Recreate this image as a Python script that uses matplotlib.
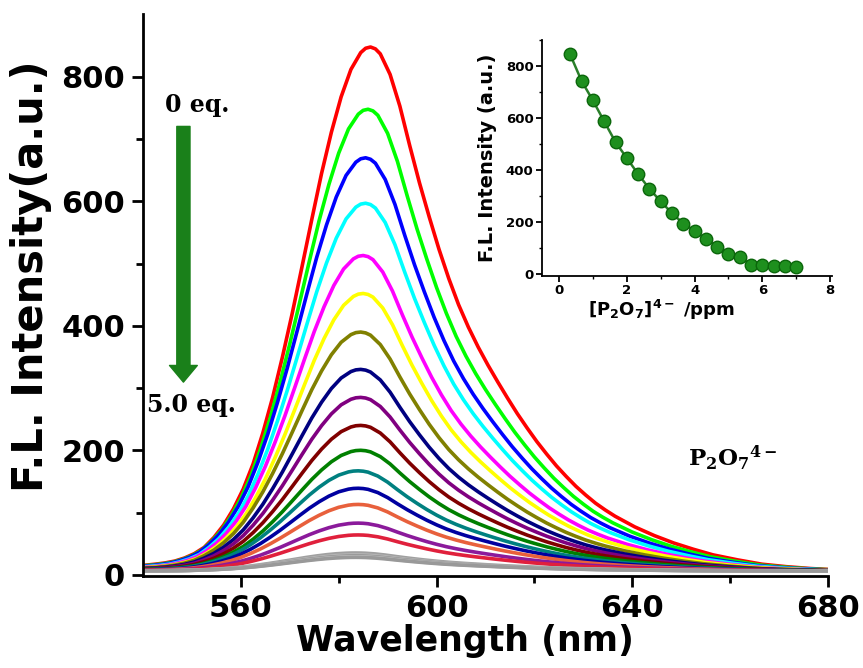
import numpy as np
import matplotlib
matplotlib.use("Agg")
import matplotlib.pyplot as plt
from matplotlib.ticker import MultipleLocator

plt.rcParams['font.family'] = ['DejaVu Sans']
plt.rcParams['font.weight'] = 'bold'
plt.rcParams['mathtext.default'] = 'regular'

# ---- data: shape of the 0 eq. (red) spectrum ----
# wavelength offset from the peak (nm) and intensity of the red curve
profile_offset = [-46.5, -44, -42, -40, -38, -36, -34, -32, -30, -28, -26, -24, -22, -20,
                  -18, -16, -14, -12, -10, -8, -6, -4, -2, -1, 0, 1, 2, 4, 6, 8, 10, 12,
                  14, 16, 18, 20, 22, 24, 26, 28, 30, 32, 34, 36, 38, 40, 42, 44, 46, 48,
                  50, 54, 58, 62, 66, 70, 75, 80, 85, 90, 95, 100]
profile_red = [15, 17, 19, 22, 27, 34, 44, 60, 80, 106, 138, 178, 228, 285,
               350, 420, 495, 571, 645, 711, 768, 812, 839, 846, 848, 845, 837, 804, 753, 690, 630, 575,
               523, 476, 434, 398, 366, 337, 310, 284, 259, 236, 214, 194, 175, 158, 142, 128, 115, 104,
               94, 77, 63, 51, 41, 32, 24, 17, 13, 10, 8, 7]
baseline = 6

peak_intensity = [848, 748, 670, 597, 513, 452, 390, 330, 285, 240, 200, 167, 139,
                  113, 83, 64, 35, 32, 30, 29, 28]
peak_wavelength = [586.5, 586.0, 585.5, 585.5, 585.0, 585.0, 584.5, 584.5, 584.5, 584.5,
                   584.5, 584.0, 584.0, 584.0, 584.0, 584.0, 583.5, 583.5, 583.5, 583.5, 583.5]
colors = ['#FF0000', '#00FF00', '#0000FF', '#00FFFF', '#FF00FF', '#FFFF00', '#808000',
          '#000080', '#800080', '#800000', '#008000', '#008080', '#0000A0', '#E8603C',
          '#8B1A9B', '#E0203C', '#A0A0A0', '#B4B4B4', '#8C8C8C', '#C0C0C0', '#999999']

# inset data
conc_ppm = [0.33, 0.67, 1.0, 1.33, 1.67, 2.0, 2.33, 2.67, 3.0, 3.33, 3.67, 4.0, 4.33,
            4.67, 5.0, 5.33, 5.67, 6.0, 6.33, 6.67, 7.0]
inset_intensity = [845, 742, 668, 588, 507, 446, 385, 327, 279, 234, 193, 166, 134,
                   105, 77, 64, 35, 32, 30, 29, 28]

fig = plt.figure(figsize=(8.63, 6.68), dpi=100)
ax = fig.add_axes([0.1657, 0.1377, 0.7937, 0.8413])

off = np.array(profile_offset, dtype=float)
pr = np.array(profile_red, dtype=float)
norm = (pr - baseline) / (pr.max() - baseline)
for pk, pw, c in zip(peak_intensity, peak_wavelength, colors):
    ax.plot(pw + off, baseline + (pk - baseline) * norm, color=c, lw=2.6,
            solid_joinstyle='round')

ax.set_xlim(540, 680)
ax.set_ylim(-2, 901)
ax.spines['top'].set_visible(False)
ax.spines['right'].set_visible(False)
for s in ('left', 'bottom'):
    ax.spines[s].set_linewidth(2.0)
ax.set_xticks([560, 600, 640, 680])
ax.set_xticks([580, 620, 660], minor=True)
ax.set_yticks([0, 200, 400, 600, 800])
ax.set_yticks([100, 300, 500, 700], minor=True)
ax.tick_params(which='major', direction='out', length=8, width=2, labelsize=22, pad=5)
ax.tick_params(which='minor', direction='out', length=5, width=2)
for lab in ax.get_xticklabels() + ax.get_yticklabels():
    lab.set_fontweight('bold')
ax.set_xlabel('Wavelength (nm)', fontsize=25, fontweight='bold')
ax.set_ylabel('F.L. Intensity(a.u.)', fontsize=30, fontweight='bold')
ax.xaxis.set_label_coords(0.47, -0.085)
ax.yaxis.set_label_coords(-0.133, 0.534)

# arrow and annotations
ax.annotate('', xy=(0.059, 0.345), xytext=(0.059, 0.80), xycoords='axes fraction',
            arrowprops=dict(arrowstyle='simple,head_length=1.2,head_width=2.0,tail_width=0.95',
                            mutation_scale=10, color='#1A801A', shrinkA=0, shrinkB=0))
ax.text(0.079, 0.838, '0 eq.', transform=ax.transAxes, ha='center', va='center',
        fontsize=17, fontweight='bold', family='DejaVu Serif')
ax.text(0.006, 0.304, '5.0 eq.', transform=ax.transAxes, ha='left', va='center',
        fontsize=17, fontweight='bold', family='DejaVu Serif')
ax.text(0.795, 0.21, 'P$_2$O$_7$$^{4-}$', transform=ax.transAxes, ha='left', va='center',
        fontsize=16.5, fontweight='bold', family='DejaVu Serif')

# inset
ins = fig.add_axes([0.628, 0.587, 0.336, 0.353])
ins.plot(conc_ppm, inset_intensity, '-o', color='#2A7F2A', lw=1.8, ms=9,
         mfc='#1E8F1E', mec='#0B660B', mew=1.0)
ins.set_xlim(-0.5, 8.05)
ins.set_ylim(-8, 900)
ins.spines['top'].set_visible(False)
ins.spines['right'].set_visible(False)
for s in ('left', 'bottom'):
    ins.spines[s].set_linewidth(1.3)
ins.xaxis.set_major_locator(MultipleLocator(2))
ins.xaxis.set_minor_locator(MultipleLocator(1))
ins.yaxis.set_major_locator(MultipleLocator(200))
ins.yaxis.set_minor_locator(MultipleLocator(100))
ins.tick_params(which='major', direction='out', length=4, width=1.3, labelsize=9.5, pad=2)
ins.tick_params(which='minor', direction='out', length=2.5, width=1.0)
for lab in ins.get_xticklabels() + ins.get_yticklabels():
    lab.set_fontweight('bold')
ins.set_xlabel('[P$_2$O$_7$]$^{4-}$ /ppm', fontsize=13, fontweight='bold')
ins.set_ylabel('F.L. Intensity (a.u.)', fontsize=14, fontweight='bold')
ins.xaxis.set_label_coords(0.414, -0.095)
ins.yaxis.set_label_coords(-0.155, 0.5)

fig.savefig('out.png', dpi=100)
